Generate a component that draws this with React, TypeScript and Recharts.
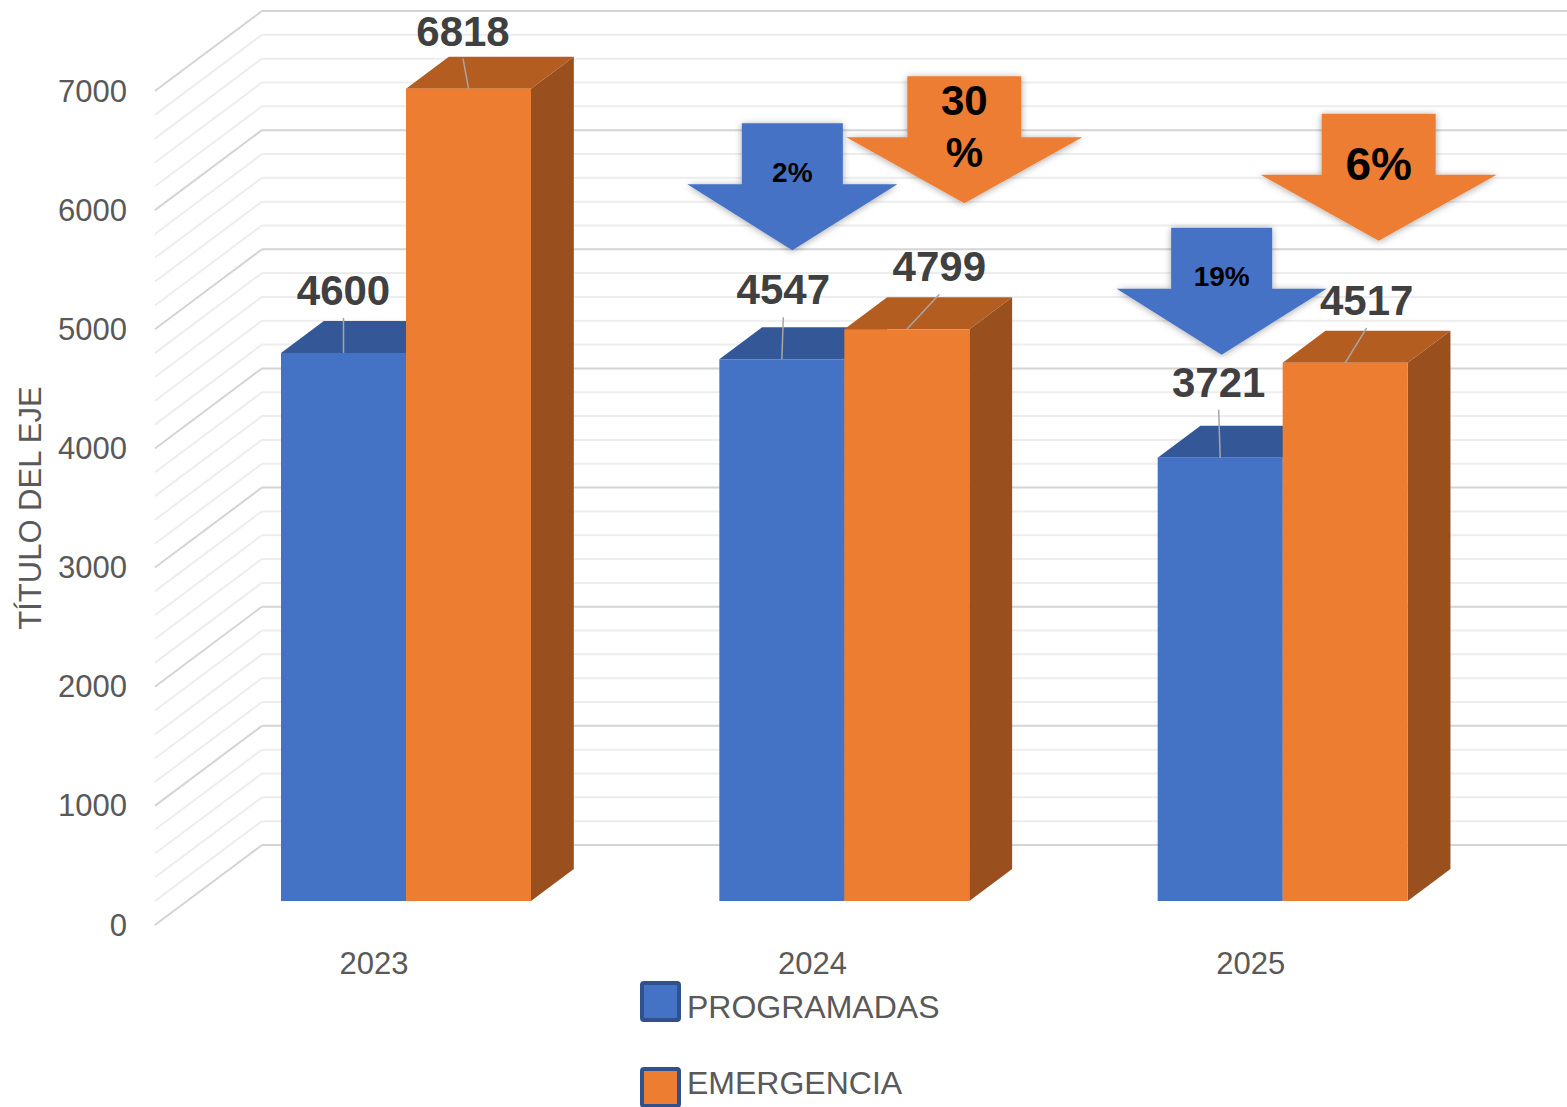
import React from "react";
import { BarChart, Bar, XAxis, YAxis, CartesianGrid, LabelList, Legend } from "recharts";

const years = ["2023", "2024", "2025"];
const programadas = [4600, 4547, 3721];
const emergencia = [6818, 4799, 4517];
const caidaProgramadas = ["", "2%", "19%"];
const caidaEmergencia = ["", "30%", "6%"];
const seriesNames = ["PROGRAMADAS", "EMERGENCIA"];
const yTickLabels = [0, 1000, 2000, 3000, 4000, 5000, 6000, 7000];
const gridStep = 200;

const data = years.map((year, i) => ({
    year,
    programadas: programadas[i],
    emergencia: emergencia[i],
    caidaP: caidaProgramadas[i],
    caidaE: caidaEmergencia[i],
}));

const gridTicks: number[] = [];
for (let v = 0; v <= yTickLabels[yTickLabels.length - 1]; v += gridStep) gridTicks.push(v);

// fake 3D: floor depth, bars sit between 30% and 70% of it
const DEPTH_X = 107;
const DEPTH_Y = 80;
const FRONT = 0.3;
const BACK = 0.7;
const BAR_DX = DEPTH_X * (BACK - FRONT);
const BAR_DY = DEPTH_Y * (BACK - FRONT);

const FONT = "'Liberation Sans', Arial, sans-serif";
const AXIS_TEXT = "#595959";

const BLUE = { front: "#4472C4", top: "#345797", side: "#2B4A80" };
const ORANGE = { front: "#ED7D31", top: "#B45D21", side: "#9A4F1E" };

// label nudges relative to the top centre of each bar's front face
const nudgeProgramadas = [[0, -48], [1.5, -55], [-1.5, -61]];
const nudgeEmergencia = [[-5.5, -43], [32.5, -48], [21.5, -48]];

type ArrowLook = {
    fill: string;
    shaftW: number;
    headW: number;
    shaftH: number;
    headH: number;
    place: ({ dx: number; dy: number; size: number; lines: number[] } | null)[];
};

const arrowProgramadas: ArrowLook = {
    fill: BLUE.front,
    shaftW: 101,
    headW: 210,
    shaftH: 61,
    headH: 66,
    place: [null, { dx: 10.5, dy: -109, size: 28, lines: [-68] }, { dx: 1.5, dy: -103, size: 28, lines: [-69] }],
};

const arrowEmergencia: ArrowLook = {
    fill: ORANGE.front,
    shaftW: 114,
    headW: 236,
    shaftH: 61,
    headH: 66,
    place: [null, { dx: 57.5, dy: -126, size: 42, lines: [-88, -36] }, { dx: 33.5, dy: -122, size: 46, lines: [-61] }],
};

const boxOf = (p: any) => {
    const vb = p.viewBox && p.viewBox.width !== undefined ? p.viewBox : p;
    return { x: Number(vb.x), y: Number(vb.y), width: Number(vb.width), height: Number(vb.height) };
};

const makeBar3D = (c: { front: string; top: string; side: string }) => (props: any) => {
    const { x, y, width, height } = props;
    if (!height || height <= 0) return <g />;
    const r = x + width;
    const b = y + height;
    return (
        <g>
            <polygon points={`${r},${y} ${r + BAR_DX},${y - BAR_DY} ${r + BAR_DX},${b - BAR_DY} ${r},${b}`} fill={c.side} />
            <polygon points={`${x},${y} ${x + BAR_DX},${y - BAR_DY} ${r + BAR_DX},${y - BAR_DY} ${r},${y}`} fill={c.top} />
            <rect x={x} y={y} width={width} height={height} fill={c.front} />
        </g>
    );
};

const valueLabel = (nudges: number[][], values: number[]) => (p: any) => {
    const { x, y, width } = boxOf(p);
    const idx = p.index ?? values.indexOf(Number(p.value));
    const n = nudges[idx] || [0, -48];
    const cx = x + width / 2;
    const tx = cx + n[0];
    const base = y + n[1];
    return (
        <g>
            <line x1={cx} y1={y} x2={tx} y2={base + 13} stroke="#A6A6A6" strokeWidth={1.5} />
            <text x={tx} y={base} textAnchor="middle" fontFamily={FONT} fontSize={42} fontWeight="bold" fill="#404040">
                {p.value}
            </text>
        </g>
    );
};

const arrowLabel = (look: ArrowLook, texts: string[]) => (p: any) => {
    if (!p.value) return null;
    const idx = p.index ?? texts.indexOf(String(p.value));
    const place = look.place[idx];
    if (!place) return null;
    const { x, y, width } = boxOf(p);
    const tx = x + width / 2 + place.dx;
    const ty = y + place.dy;
    const sy = ty - look.headH;
    const top = sy - look.shaftH;
    const pts = [
        [tx - look.shaftW / 2, top],
        [tx + look.shaftW / 2, top],
        [tx + look.shaftW / 2, sy],
        [tx + look.headW / 2, sy],
        [tx, ty],
        [tx - look.headW / 2, sy],
        [tx - look.shaftW / 2, sy],
    ]
        .map((q) => q.join(","))
        .join(" ");
    const text = String(p.value);
    const lines = place.lines.length > 1 ? [text.replace("%", ""), "%"] : [text];
    const fid = `arrow-shadow-${look.fill.slice(1)}-${idx}`;
    return (
        <g>
            <defs>
                <filter id={fid} x="-20%" y="-20%" width="140%" height="140%">
                    <feDropShadow dx="0" dy="1" stdDeviation="3.5" floodColor="#000" floodOpacity="0.35" />
                </filter>
            </defs>
            <polygon points={pts} fill={look.fill} filter={`url(#${fid})`} />
            {lines.map((t, i) => (
                <text key={i} x={tx} y={ty + place.lines[i]} textAnchor="middle" fontFamily={FONT} fontSize={place.size} fontWeight="bold" fill="#000">
                    {t}
                </text>
            ))}
        </g>
    );
};

const wallLine = (props: any) => {
    const { x1, y1, x2, index } = props;
    const major = index % (1000 / gridStep) === 0;
    const stroke = major ? "#D4D4D4" : "#EDEDED";
    const fx = x1 - DEPTH_X * FRONT;
    const fy = y1 + DEPTH_Y * FRONT;
    const bx = x1 + DEPTH_X * BACK;
    const by = y1 - DEPTH_Y * BACK;
    return (
        <g key={`wall-${index}`}>
            <line x1={fx} y1={fy} x2={bx} y2={by} stroke={stroke} strokeWidth={2} />
            <line x1={bx} y1={by} x2={x2 + DEPTH_X * BACK} y2={by} stroke={stroke} strokeWidth={2} />
        </g>
    );
};

const renderYTick = (props: any) => {
    const v = Number(props.payload?.value);
    if (!yTickLabels.includes(v)) return <g />;
    return (
        <text x={127} y={props.y + DEPTH_Y * FRONT} textAnchor="end" dominantBaseline="central" fontFamily={FONT} fontSize={31} fill={AXIS_TEXT}>
            {v}
        </text>
    );
};

const renderXTick = (props: any) => (
    <text x={props.x - DEPTH_X * FRONT} y={963} textAnchor="middle" dominantBaseline="central" fontFamily={FONT} fontSize={31} fill={AXIS_TEXT}>
        {props.payload?.value}
    </text>
);

const LegendBox = (props: any) => {
    const items = [...(props.payload || [])].sort((a: any, b: any) => seriesNames.indexOf(a.value) - seriesNames.indexOf(b.value));
    const textTops = [10, 85.5];
    return (
        <div style={{ position: "relative", width: 400, height: 130, fontFamily: FONT }}>
            {items.map((it: any, i: number) => (
                <React.Fragment key={it.value}>
                    <div
                        style={{
                            position: "absolute",
                            left: 0,
                            top: i * 86,
                            width: 41,
                            height: 41,
                            boxSizing: "border-box",
                            border: "4px solid #2F528F",
                            borderRadius: 4,
                            background: it.color,
                        }}
                    />
                    <div style={{ position: "absolute", left: 47, top: textTops[i], fontSize: 32, lineHeight: "32px", color: AXIS_TEXT, whiteSpace: "nowrap" }}>
                        {it.value}
                    </div>
                </React.Fragment>
            ))}
        </div>
    );
};

export default function App() {
    return (
        <div style={{ position: "absolute", left: 0, top: 0, width: 1567, height: 1107, background: "#fff", overflow: "hidden" }}>
            <BarChart width={1567} height={1107} data={data} margin={{ top: 67, right: 65, bottom: 166, left: 127 }} barSize={125} barGap={0}>
                <CartesianGrid vertical={false} horizontal={wallLine} />
                <XAxis dataKey="year" height={40} axisLine={false} tickLine={false} tick={renderXTick} interval={0} />
                <YAxis width={60} domain={[0, 7000]} ticks={gridTicks} interval={0} axisLine={false} tickLine={false} tick={renderYTick} />
                <Legend layout="vertical" align="center" verticalAlign="middle" wrapperStyle={{ left: 640, top: 981, width: 400, height: 130 }} content={<LegendBox />} />
                <Bar dataKey="programadas" name={seriesNames[0]} fill={BLUE.front} shape={makeBar3D(BLUE)} isAnimationActive={false}>
                    <LabelList dataKey="programadas" content={valueLabel(nudgeProgramadas, programadas)} />
                    <LabelList dataKey="caidaP" content={arrowLabel(arrowProgramadas, caidaProgramadas)} />
                </Bar>
                <Bar dataKey="emergencia" name={seriesNames[1]} fill={ORANGE.front} shape={makeBar3D(ORANGE)} isAnimationActive={false}>
                    <LabelList dataKey="emergencia" content={valueLabel(nudgeEmergencia, emergencia)} />
                    <LabelList dataKey="caidaE" content={arrowLabel(arrowEmergencia, caidaEmergencia)} />
                </Bar>
            </BarChart>
            <svg width={60} height={400} style={{ position: "absolute", left: 0, top: 308 }}>
                <text x={30} y={200} transform="rotate(-90 30 200)" textAnchor="middle" dominantBaseline="central" fontFamily={FONT} fontSize={31} fill={AXIS_TEXT}>
                    TÍTULO DEL EJE
                </text>
            </svg>
        </div>
    );
}
